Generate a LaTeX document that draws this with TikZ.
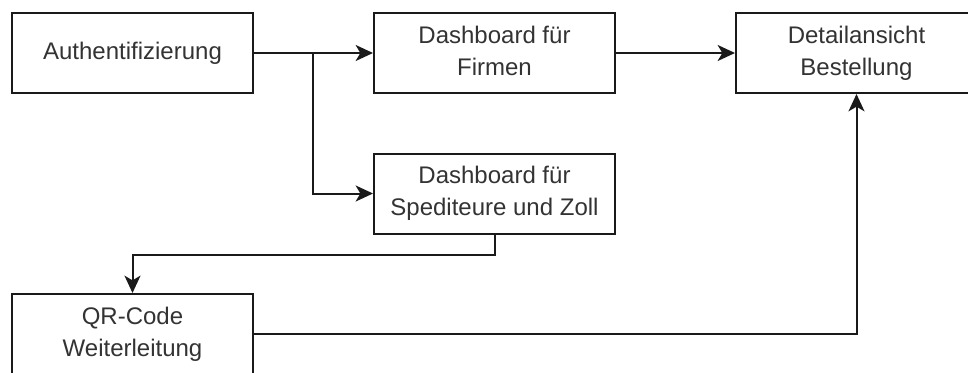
\documentclass[tikz,border=0pt]{standalone}
\usepackage{fontspec}
\setmainfont{Liberation Sans}
\usetikzlibrary{arrows.meta}
\definecolor{txtgray}{HTML}{333333}
\definecolor{linegray}{HTML}{1A1A1A}
\tikzset{
  box/.style={draw=linegray, line width=1.5pt, fill=white, minimum width=180.75pt,
    minimum height=60pt, inner sep=0pt, align=center, text=txtgray, text depth=4pt,
    font=\fontsize{18pt}{24pt}\selectfont},
  flow/.style={draw=linegray, line width=1.5pt,
    -{Stealth[length=13pt, width=12pt, inset=3.5pt]}}
}
\begin{document}
\begin{tikzpicture}[x=0.75pt, y=-0.75pt]
  \useasboundingbox (0,0) rectangle (968,372);
  \clip (0,0) rectangle (968,372);
  \node[box] (auth)   at (132.5,53)  {Authentifizierung};
  \node[box] (firmen) at (494.5,53)  {Dashboard für\\Firmen};
  \node[box] (detail) at (856.5,53)  {Detailansicht\\Bestellung};
  \node[box] (sped)   at (494.5,193.5) {Dashboard für\\Spediteure und Zoll};
  \node[box] (qr)     at (132.5,334) {QR-Code\\Weiterleitung};
  \coordinate (split) at (313,53);
  \draw[flow] (auth.east) -- (firmen.west);
  \draw[flow] (split) |- (sped.west);
  \draw[flow] (firmen.east) -- (detail.west);
  \draw[flow] (sped.south) -- ++(0,20) -| (qr.north);
  \draw[flow] (qr.east) -| (detail.south);
\end{tikzpicture}
\end{document}
